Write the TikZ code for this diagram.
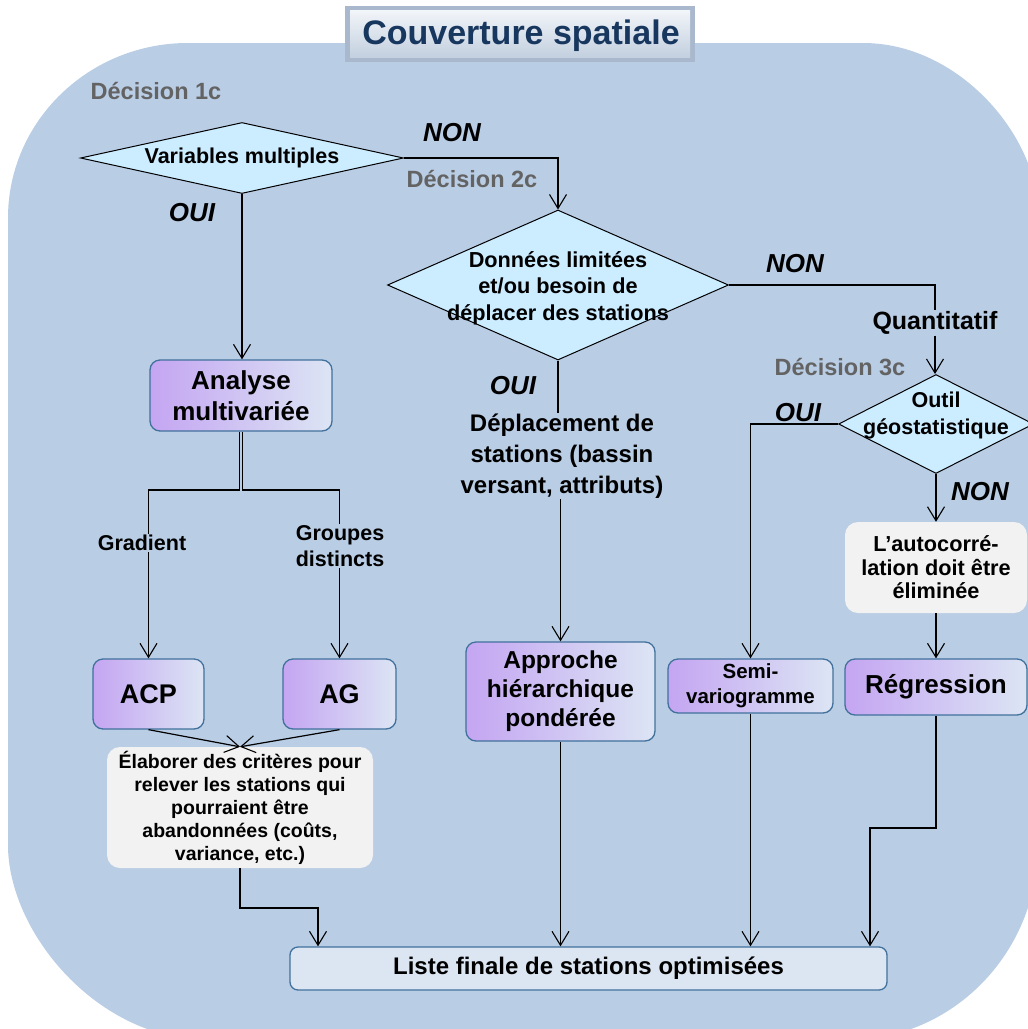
\documentclass[tikz,border=0pt]{standalone}
\usepackage{fontspec}
\setmainfont{Liberation Sans}
\usetikzlibrary{shapes.geometric,arrows.meta}
\definecolor{bgblue}{HTML}{B9CDE5}
\definecolor{diafill}{HTML}{CCECFF}
\definecolor{grayfill}{HTML}{F2F2F2}
\definecolor{pleft}{HTML}{C4A5F2}
\definecolor{pright}{HTML}{DCE5F4}
\definecolor{boxborder}{HTML}{41719C}
\definecolor{listfill}{HTML}{DCE6F2}
\definecolor{decgray}{HTML}{636363}
\definecolor{titlenavy}{HTML}{17375E}
\definecolor{bevel}{HTML}{A9B8CC}
\definecolor{ttop}{HTML}{F2F5F9}
\definecolor{tbot}{HTML}{C3D0DF}
\newcommand\myfs[2]{\fontsize{#1}{#2}\selectfont\bfseries}
\tikzset{
  conn/.style={line width=1.2pt, draw=black},
  arr/.style={conn, -{Straight Barb[length=14pt,width=17pt,line width=1.1pt]}},
  dia/.style={diamond, draw=black, line width=1pt, fill=diafill, inner sep=0pt},
  pbox/.style={rounded corners=10pt, draw=boxborder, line width=1.3pt, left color=pleft, right color=pright, inner sep=0pt, align=center},
  gbox/.style={rounded corners=13pt, fill=grayfill, inner sep=0pt, align=center},
  lbox/.style={rounded corners=8pt, draw=boxborder, line width=1.3pt, fill=listfill, inner sep=0pt},
  lbl/.style={align=center, inner sep=1pt},
  dec/.style={text=decgray, font=\myfs{23.5}{27}, inner sep=1pt},
  yn/.style={font=\myfs{26}{29}\itshape, inner sep=1pt},
}
\begin{document}
\begin{tikzpicture}[x=1pt,y=-1pt]
\useasboundingbox (0,0) rectangle (1028,1029);
% background
\fill[bgblue] (8,218) .. controls (8,121.4) and (88.6,43) .. (188,43)
  -- (863,43) .. controls (959.6,43) and (1038,136.8) .. (1038,213)
  -- (1038,845) .. controls (1038,952.6) and (952.9,1040) .. (848,1040)
  -- (208,1040) .. controls (97.6,1040) and (8,932.4) .. (8,845) -- cycle;
% title
\fill[bevel] (345,6) rectangle (695,62);
\shade[top color=ttop, bottom color=tbot] (350,10) rectangle (690,57);
\node[text=titlenavy, font=\myfs{34}{38}] (title) at (521,36) {Couverture spatiale};

% decisions
\node[dia, minimum width=323pt, minimum height=71pt] (d1) at (242,158) {};
\node[font=\myfs{21.5}{25}, inner sep=0pt] (d1t) at (d1.center) {Variables multiples};
\node[dia, minimum width=341pt, minimum height=150pt] (d2) at (558,285) {};
\node[lbl, font=\myfs{21.7}{26.5}] (d2t) at (558,288) {Données limitées\\et/ou besoin de\\déplacer des stations};
\node[dia, minimum width=195pt, minimum height=99pt] (d3) at (936,424) {};
\node[lbl, font=\myfs{21.5}{27}] (d3t) at (936,415) {Outil\\géostatistique};

\node[dec] (dc1) at (156,91) {Décision 1c};
\node[dec] (dc2) at (472,179) {Décision 2c};
\node[dec] (dc3) at (840,367) {Décision 3c};

\node[yn] (non1) at (452,133) {NON};
\node[yn] (oui1) at (192,213) {OUI};
\node[yn] (non2) at (795,264) {NON};
\node[yn] (oui2) at (513,386) {OUI};
\node[yn] (oui3) at (798,413) {OUI};
\node[yn] (non3) at (980,492) {NON};

\node[lbl, font=\myfs{25}{27}] (qt) at (935,323) {Quantitatif};
\node[lbl, font=\myfs{24}{31}] (dep) at (562,456) {Déplacement de\\stations (bassin\\versant, attributs)};
\node[lbl, font=\myfs{21.5}{26}] (gr) at (142,543) {Gradient};
\node[lbl, font=\myfs{21.5}{26}] (gd) at (340,546) {Groupes\\distincts};

% boxes
\node[pbox, minimum width=182pt, minimum height=71pt, font=\myfs{26}{31}] (an) at (241,395.5) {Analyse\\multivariée};
\node[pbox, minimum width=111pt, minimum height=70pt, font=\myfs{27}{30}] (acp) at (148.5,694) {ACP};
\node[pbox, minimum width=113pt, minimum height=70pt, font=\myfs{27}{30}] (ag) at (339.5,694) {AG};
\node[gbox, minimum width=266pt, minimum height=121pt, font=\myfs{19.5}{23}] (el) at (240,807.5) {Élaborer des critères pour\\relever les stations qui\\pourraient être\\abandonnées (coûts,\\variance, etc.)};
\node[pbox, minimum width=189pt, minimum height=99pt, font=\myfs{24.5}{29}] (ap) at (560.5,691.5) {Approche\\hiérarchique\\pondérée};
\node[pbox, minimum width=165pt, minimum height=54pt, font=\myfs{20.5}{25}] (sv) at (750.5,686) {Semi-\\variogramme};
\node[pbox, minimum width=182pt, minimum height=56pt, font=\myfs{26}{30}] (rg) at (936,687) {Régression};
\node[gbox, minimum width=182pt, minimum height=91pt, font=\myfs{21.7}{23.5}] (ac) at (936,567.5) {L’autocorré-\\lation doit être\\éliminée};
\node[lbox, minimum width=597pt, minimum height=43pt, font=\myfs{24}{26}] (li) at (588.5,968.5) {Liste finale de stations optimisées};

% connectors
\coordinate (split) at (240,490);
\coordinate (jl) at (318,908);
\coordinate (jr) at (870,828);
\draw[arr] (d1.south) -- (d1.south |- an.north);
\draw[arr] (d1.east) -| (d2.north);
\draw[conn] (d2.east) -| (qt.north);
\draw[arr] (qt.south) -- (qt.south |- d3.north);
\draw[conn] (d2.south) -- (d2.south |- dep.north);
\draw[arr] (dep.south -| ap.north) -- (ap.north);
\draw[conn] ([xshift=-1.5pt]an.south) -- ([xshift=-1.5pt]an.south |- split) -| (gr.north -| acp.north);
\draw[conn] ([xshift=1.5pt]an.south) -- ([xshift=1.5pt]an.south |- split) -| (gd.north -| ag.north);
\draw[arr] (gr.south -| acp.north) -- (acp.north);
\draw[arr] (gd.south -| ag.north) -- (ag.north);
\draw[arr] (acp.south) -- (el.north);
\draw[arr] (ag.south) -- (el.north);
\draw[arr] (el.south) |- (jl) -- (jl |- li.north);
\draw[arr] (ap.south) -- (ap.south |- li.north);
\draw[arr] (sv.south) -- (sv.south |- li.north);
\draw[arr] (rg.south) |- (jr) -- (jr |- li.north);
\draw[arr] (d3.west) -| (sv.north);
\draw[arr] (d3.south) -- (ac.north);
\draw[arr] (ac.south) -- (rg.north);
\end{tikzpicture}
\end{document}
